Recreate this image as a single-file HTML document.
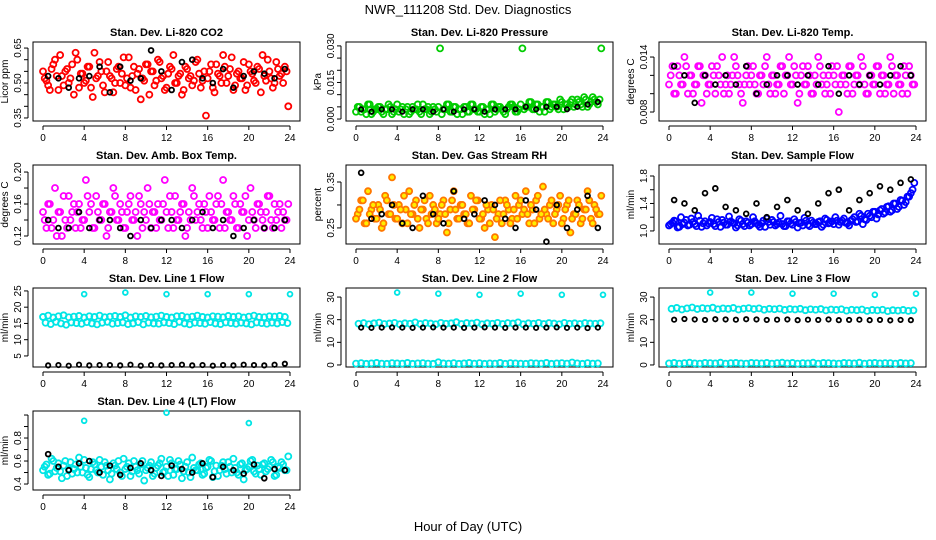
<!DOCTYPE html>
<html><head><meta charset="utf-8"><style>
body{margin:0;background:#fff}
svg{display:block;font-family:"Liberation Sans",sans-serif}
</style></head><body>
<svg id="c" width="936" height="540"></svg>
<script>
const hourTicks=[0,4,8,12,16,20,24];
const co2C=[0.52,0.49,0.56,0.60,0.47,0.53,0.55,0.50,0.58,0.63,0.48,0.54,0.51,0.57,0.44,0.52,0.59,0.49,0.55,0.53,0.46,0.56,0.50,0.61,0.52,0.48,0.57,0.54,0.43,0.51,0.58,0.55,0.49,0.60,0.52,0.47,0.54,0.56,0.50,0.53,0.45,0.57,0.52,0.49,0.59,0.54,0.51,0.36,0.55,0.48,0.58,0.53,0.62,0.50,0.56,0.47,0.54,0.52,0.59,0.49,0.55,0.51,0.57,0.46,0.53,0.60,0.52,0.50,0.56,0.54,0.57,0.40];
const co2C2=[0.55,0.51,0.47,0.58,0.53,0.62,0.49,0.56,0.52,0.45,0.60,0.54,0.50,0.57,0.48,0.63,0.53,0.55,0.46,0.59,0.52,0.50,0.57,0.54,0.49,0.61,0.53,0.47,0.56,0.52,0.58,0.45,0.55,0.51,0.59,0.53,0.48,0.57,0.62,0.50,0.54,0.47,0.56,0.53,0.51,0.60,0.48,0.55,0.52,0.58,0.46,0.54,0.50,0.57,0.53,0.61,0.49,0.55,0.52,0.47,0.58,0.54,0.50,0.56,0.62,0.51,0.55,0.48,0.59,0.53,0.50,0.55];
const co2K=[0.53,0.52,0.48,0.52,0.53,0.57,0.46,0.57,0.51,0.52,0.64,0.55,0.47,0.59,0.60,0.52,0.50,0.56,0.48,0.53,0.55,0.54,0.52,0.56];
const presC=[0.005,0.003,0.004,0.006,0.002,0.004,0.005,0.003,0.004,0.006,0.002,0.004,0.003,0.005,0.004,0.002,0.005,0.004,0.003,0.006,0.004,0.002,0.005,0.003,0.029,0.004,0.006,0.003,0.005,0.002,0.004,0.005,0.003,0.006,0.004,0.003,0.005,0.002,0.004,0.006,0.003,0.005,0.004,0.002,0.005,0.006,0.003,0.004,0.029,0.005,0.007,0.004,0.006,0.003,0.005,0.007,0.004,0.006,0.005,0.008,0.004,0.006,0.007,0.005,0.008,0.006,0.009,0.005,0.007,0.008,0.006,0.029];
const presC2=[0.003,0.005,0.004,0.002,0.006,0.003,0.004,0.005,0.002,0.004,0.005,0.003,0.006,0.004,0.002,0.005,0.003,0.004,0.006,0.002,0.004,0.005,0.003,0.004,0.005,0.002,0.004,0.006,0.003,0.005,0.004,0.002,0.005,0.003,0.006,0.004,0.003,0.005,0.004,0.002,0.006,0.004,0.005,0.003,0.004,0.006,0.005,0.003,0.006,0.004,0.005,0.007,0.004,0.006,0.005,0.003,0.007,0.005,0.006,0.004,0.007,0.006,0.005,0.008,0.006,0.007,0.005,0.008,0.006,0.009,0.007,0.008];
const presK=[0.004,0.003,0.004,0.004,0.003,0.004,0.004,0.003,0.004,0.003,0.004,0.004,0.003,0.004,0.004,0.004,0.005,0.004,0.005,0.005,0.004,0.005,0.006,0.007];
const tempC=[0.012,0.010,0.013,0.011,0.014,0.010,0.012,0.011,0.013,0.009,0.012,0.011,0.013,0.010,0.012,0.014,0.011,0.010,0.012,0.013,0.011,0.009,0.012,0.011,0.013,0.010,0.012,0.011,0.014,0.010,0.012,0.011,0.013,0.010,0.012,0.011,0.013,0.009,0.012,0.011,0.013,0.010,0.012,0.014,0.011,0.010,0.012,0.013,0.011,0.008,0.012,0.011,0.013,0.010,0.012,0.011,0.013,0.010,0.012,0.011,0.013,0.010,0.012,0.011,0.014,0.010,0.012,0.011,0.013,0.010,0.012,0.011];
const tempC2=[0.011,0.013,0.010,0.012,0.011,0.013,0.012,0.010,0.011,0.013,0.012,0.010,0.011,0.012,0.013,0.011,0.010,0.012,0.011,0.014,0.012,0.010,0.011,0.013,0.012,0.011,0.010,0.012,0.013,0.011,0.012,0.010,0.011,0.013,0.012,0.014,0.011,0.012,0.010,0.013,0.011,0.012,0.010,0.011,0.013,0.012,0.011,0.010,0.012,0.013,0.011,0.012,0.010,0.013,0.011,0.012,0.014,0.011,0.010,0.012,0.011,0.013,0.012,0.010,0.011,0.013,0.012,0.011,0.010,0.012,0.013,0.011];
const tempK=[0.013,0.012,0.009,0.012,0.011,0.012,0.011,0.013,0.010,0.011,0.012,0.012,0.011,0.012,0.011,0.013,0.010,0.012,0.011,0.012,0.011,0.012,0.013,0.012];
const ambC=[0.14,0.16,0.13,0.18,0.15,0.12,0.14,0.17,0.15,0.13,0.16,0.14,0.19,0.15,0.13,0.17,0.14,0.16,0.12,0.15,0.18,0.14,0.16,0.13,0.15,0.17,0.14,0.12,0.16,0.15,0.18,0.13,0.15,0.16,0.14,0.19,0.13,0.15,0.17,0.14,0.16,0.12,0.15,0.18,0.14,0.16,0.13,0.15,0.17,0.14,0.16,0.13,0.19,0.15,0.14,0.17,0.13,0.16,0.15,0.12,0.18,0.14,0.16,0.15,0.13,0.17,0.14,0.16,0.15,0.13,0.14,0.16];
const ambC2=[0.15,0.13,0.16,0.14,0.12,0.15,0.17,0.13,0.14,0.16,0.15,0.13,0.14,0.17,0.16,0.13,0.15,0.14,0.16,0.13,0.15,0.17,0.14,0.15,0.13,0.16,0.14,0.15,0.17,0.13,0.14,0.16,0.15,0.13,0.14,0.16,0.15,0.17,0.13,0.14,0.15,0.16,0.13,0.14,0.17,0.15,0.14,0.16,0.13,0.15,0.14,0.17,0.16,0.13,0.15,0.14,0.16,0.13,0.15,0.17,0.14,0.15,0.13,0.16,0.14,0.15,0.17,0.13,0.14,0.16,0.15,0.14];
const ambK=[0.14,0.13,0.13,0.15,0.13,0.14,0.14,0.13,0.12,0.14,0.13,0.14,0.14,0.13,0.14,0.15,0.13,0.14,0.12,0.13,0.14,0.13,0.13,0.14];
const rhC=[0.28,0.31,0.26,0.33,0.29,0.27,0.30,0.25,0.32,0.28,0.36,0.27,0.30,0.26,0.29,0.33,0.28,0.31,0.25,0.29,0.27,0.32,0.30,0.26,0.28,0.31,0.24,0.29,0.33,0.27,0.30,0.28,0.26,0.32,0.29,0.31,0.27,0.25,0.29,0.30,0.23,0.28,0.26,0.31,0.29,0.27,0.32,0.30,0.28,0.33,0.26,0.29,0.31,0.27,0.34,0.28,0.30,0.26,0.29,0.32,0.27,0.30,0.24,0.28,0.31,0.26,0.29,0.33,0.27,0.30,0.28,0.32];
const rhC2=[0.27,0.29,0.31,0.26,0.28,0.30,0.27,0.29,0.26,0.31,0.28,0.30,0.27,0.29,0.32,0.26,0.28,0.30,0.27,0.29,0.31,0.26,0.28,0.29,0.27,0.30,0.28,0.26,0.31,0.29,0.27,0.30,0.28,0.26,0.29,0.31,0.27,0.28,0.30,0.26,0.29,0.27,0.31,0.28,0.30,0.26,0.29,0.27,0.31,0.29,0.28,0.30,0.26,0.32,0.28,0.29,0.27,0.31,0.28,0.30,0.26,0.29,0.31,0.27,0.28,0.30,0.27,0.29,0.31,0.26,0.29,0.28];
const rhK=[0.37,0.27,0.28,0.30,0.26,0.25,0.32,0.28,0.26,0.33,0.27,0.28,0.31,0.30,0.27,0.25,0.31,0.29,0.22,0.30,0.25,0.29,0.32,0.25];
const flowC=[1.10,1.15,1.05,1.20,1.12,1.08,1.18,1.10,1.22,1.06,1.14,1.11,1.19,1.07,1.13,1.16,1.09,1.21,1.12,1.05,1.17,1.10,1.14,1.08,1.20,1.11,1.06,1.15,1.18,1.09,1.13,1.10,1.22,1.07,1.14,1.11,1.17,1.05,1.12,1.19,1.09,1.15,1.10,1.13,1.06,1.18,1.11,1.14,1.20,1.09,1.15,1.12,1.08,1.17,1.13,1.25,1.10,1.16,1.22,1.28,1.18,1.30,1.25,1.35,1.28,1.40,1.32,1.45,1.38,1.50,1.55,1.70];
const flowC2=[1.08,1.12,1.14,1.06,1.10,1.16,1.09,1.13,1.07,1.15,1.11,1.08,1.13,1.10,1.17,1.06,1.12,1.09,1.14,1.11,1.08,1.15,1.07,1.12,1.10,1.14,1.09,1.11,1.06,1.13,1.16,1.08,1.12,1.10,1.07,1.14,1.09,1.13,1.11,1.08,1.15,1.07,1.12,1.10,1.14,1.09,1.16,1.12,1.10,1.15,1.13,1.18,1.11,1.15,1.20,1.14,1.22,1.17,1.25,1.20,1.28,1.24,1.32,1.27,1.36,1.30,1.40,1.35,1.44,1.42,1.50,1.60];
const flowK=[1.45,1.40,1.30,1.55,1.62,1.35,1.30,1.25,1.40,1.20,1.35,1.45,1.30,1.25,1.40,1.55,1.60,1.30,1.45,1.55,1.65,1.60,1.70,1.75];
const l1A=[15.2,14.8,15.5,15.0,14.6,15.3,15.1,14.9,15.4,15.0,14.7,15.2,15.5,14.9,15.1,15.3,14.8,15.0,15.4,14.7,15.2,15.0,14.9,15.3,15.1,14.8,15.5,15.0,14.7,15.2,15.1,14.9,15.4,15.0,14.8,15.3,15.1,14.9,15.2,15.0,14.7,15.3,15.1,14.9,15.2,15.0,15.4,15.1];
const l1B=[17.0,17.4,16.8,17.2,17.5,16.9,17.1,17.3,16.8,17.2,17.0,17.4,16.9,17.1,17.3,17.0,17.5,16.8,17.2,17.0,17.3,16.9,17.1,17.4,17.0,16.8,17.2,17.3,16.9,17.1,17.4,17.0,16.8,17.2,17.1,16.9,17.3,17.0,17.2,16.8,17.1,17.4,17.0,16.9,17.2,17.1,17.3,17.0];
const l1K=[2.1,2.2,2.0,2.3,2.1,2.2,2.2,2.1,2.3,2.0,2.2,2.1,2.2,2.3,2.1,2.2,2.0,2.2,2.1,2.3,2.2,2.1,2.3,2.6];
const l1OutH=[4,8,12,16,20,24];
const l1OutV=[24,24.5,24,24,24,24];
const l2A=[18.2,18.5,18.0,18.4,18.7,18.1,18.3,18.6,18.0,18.4,18.2,18.8,18.1,18.5,18.3,18.0,18.6,18.2,18.4,18.9,18.1,18.5,18.3,18.7,18.0,18.4,18.2,18.6,18.1,18.5,18.3,18.8,18.0,18.4,18.2,18.6,18.1,18.5,18.3,18.0,18.6,18.2,18.4,18.1,18.5,18.3,18.2,18.4];
const l2B=[0.6,0.8,0.5,0.7,0.9,0.6,0.5,0.8,0.7,0.6,0.9,0.5,0.7,0.8,0.6,0.5,1.2,0.7,0.6,0.8,0.5,0.7,0.9,0.6,0.8,0.5,0.7,0.6,0.9,0.5,0.8,0.7,0.6,0.5,0.8,0.7,0.6,0.9,0.5,0.7,0.8,0.6,1.1,0.7,0.5,0.8,0.6,0.7];
const l2K=[16.5,16.4,16.5,16.6,16.5,16.4,16.5,16.6,16.5,16.5,16.4,16.5,16.6,16.5,16.4,16.5,16.5,16.4,16.5,16.6,16.4,16.5,16.3,16.5];
const l2OutH=[4,8,12,16,20,24];
const l2OutV=[32,31.5,31,31.5,31,31];
const l3A=[24.8,25.2,24.5,25.0,25.4,24.7,25.1,24.9,25.3,24.6,25.0,24.8,25.2,24.5,24.9,25.1,24.7,25.0,24.4,24.8,24.6,24.9,24.3,24.7,24.5,24.8,24.2,24.6,24.4,24.7,24.1,24.5,24.3,24.6,24.0,24.4,24.2,24.5,23.9,24.3,24.1,24.4,23.8,24.2,24.0,24.3,23.9,24.1];
const l3B=[0.7,0.9,0.6,0.8,1.0,0.7,0.6,0.9,0.8,0.7,1.0,0.6,0.8,0.9,0.7,0.6,0.9,0.8,0.7,0.9,0.6,0.8,1.0,0.7,0.9,0.6,0.8,0.7,1.0,0.6,0.9,0.8,0.7,0.6,0.9,0.8,0.7,1.0,0.6,0.8,0.9,0.7,0.8,0.8,0.6,0.9,0.7,0.8];
const l3K=[20.0,20.3,20.1,19.9,20.2,20.1,20.0,20.2,20.1,19.9,20.0,20.1,19.8,20.0,19.9,20.1,19.8,19.9,20.0,19.8,19.9,19.7,19.9,19.8];
const l3OutH=[4,8,12,16,20,24];
const l3OutV=[32,32,31.5,31.5,31,31.5];
const l4C=[0.55,0.48,0.62,0.51,0.58,0.45,0.60,0.53,0.49,0.57,0.63,0.50,0.54,0.46,0.59,0.52,0.61,0.48,0.56,0.44,0.58,0.53,0.50,0.62,0.55,0.47,0.60,0.52,0.57,0.43,0.54,0.59,0.49,0.56,0.62,0.51,0.47,0.58,0.53,0.60,0.45,0.55,0.50,0.63,0.52,0.57,0.48,0.54,0.61,0.46,0.56,0.52,0.59,0.49,0.55,0.62,0.50,0.57,0.44,0.53,0.60,0.51,0.56,0.48,0.58,0.53,0.61,0.47,0.55,0.59,0.52,0.64];
const l4C2=[0.52,0.57,0.49,0.60,0.54,0.51,0.56,0.47,0.59,0.53,0.50,0.55,0.61,0.48,0.53,0.57,0.50,0.55,0.59,0.52,0.49,0.56,0.60,0.47,0.53,0.58,0.51,0.55,0.49,0.60,0.52,0.56,0.47,0.54,0.58,0.50,0.55,0.61,0.48,0.53,0.57,0.51,0.59,0.46,0.54,0.52,0.58,0.49,0.55,0.60,0.51,0.47,0.56,0.53,0.59,0.50,0.54,0.48,0.58,0.52,0.55,0.61,0.49,0.53,0.57,0.51,0.55,0.59,0.48,0.54,0.57,0.52];
const l4K=[0.66,0.55,0.52,0.58,0.60,0.50,0.56,0.48,0.54,0.58,0.52,0.47,0.56,0.53,0.50,0.58,0.46,0.55,0.52,0.49,0.57,0.45,0.53,0.52];
const l4OutH=[4,12,20];
const l4OutV=[0.95,1.02,0.93];

const NS="http://www.w3.org/2000/svg";
const svg=document.getElementById('c');
function mk(tag,attrs,parent,text){const e=document.createElementNS(NS,tag);for(const k in attrs)e.setAttribute(k,attrs[k]);if(text!==undefined)e.textContent=text;(parent||svg).appendChild(e);return e;}
const cols=[{x0:33,x1:300,h0:43,h24:290},{x0:346,x1:613,h0:356,h24:603},{x0:659,x1:926,h0:669,h24:916}];
const rows=[42,165,288,411];
const RH=79;
function panel(o){
  const c=cols[o.col],top=rows[o.row],bot=top+RH;
  const g=mk('g',{});
  
  
  const xs=h=>c.h0+(h/24)*(c.h24-c.h0);
  const ys=v=>bot-(v-o.dom[0])/(o.dom[1]-o.dom[0])*RH;
  const t=mk('text',{x:(c.x0+c.x1)/2,y:top-6,'text-anchor':'middle','font-size':11,'font-weight':'bold'},g,o.title);
  
  
  mk('rect',{x:c.x0,y:top,width:c.x1-c.x0,height:RH,fill:'none',stroke:'#000','stroke-width':1},g);
  const xa=mk('g',{},g);
  
  
  mk('line',{x1:xs(0),x2:xs(24),y1:bot+5,y2:bot+5,stroke:'#000'},xa);
  hourTicks.forEach(h=>{mk('line',{x1:xs(h),x2:xs(h),y1:bot+5,y2:bot+9,stroke:'#000'},xa);
    mk('text',{x:xs(h),y:bot+20,'text-anchor':'middle','font-size':10},xa,String(h));});
  const ya=mk('g',{},g);
  
  
  const yt=o.ticks;
  mk('line',{x1:c.x0-5,x2:c.x0-5,y1:ys(yt[0]),y2:ys(yt[yt.length-1]),stroke:'#000'},ya);
  yt.forEach(v=>mk('line',{x1:c.x0-9,x2:c.x0-5,y1:ys(v),y2:ys(v),stroke:'#000'},ya));
  o.labels.forEach(v=>{const yy=ys(v);mk('text',{x:c.x0-12,y:yy,'text-anchor':'middle','font-size':10,transform:`rotate(-90 ${c.x0-12} ${yy})`},ya,v.toFixed(o.dec));});
  const yl=mk('text',{x:c.x0-25,y:(top+bot)/2,'text-anchor':'middle','font-size':10,transform:`rotate(-90 ${c.x0-25} ${(top+bot)/2})`},ya,o.ylab);
  
  
  o.series.forEach(s=>{
    const sg=mk('g',{},g);
    
    
    const off=s.off===undefined?0.5:s.off;
    s.vals.forEach((v,i)=>{
      const h=s.hours?s.hours[i]:(i+off)*24/s.vals.length;
      mk('circle',{cx:xs(h),cy:ys(v),r:s.r||3,fill:s.fill||'none',stroke:s.col,'stroke-width':s.sw||1.8},sg);
    });
  });
}
const K='#000';
panel({name:'panel-li820-co2',col:0,row:0,title:'Stan. Dev. Li-820 CO2',ylab:'Licor ppm',dom:[0.337,0.676],ticks:[0.35,0.40,0.45,0.50,0.55,0.60,0.65],labels:[0.35,0.50,0.65],dec:2,
 series:[{name:'co2-series',vals:co2C,col:'#ff0000'},{name:'co2-series-b',vals:co2C2,col:'#ff0000',off:0},{name:'co2-black-series',vals:co2K,col:K,r:2.4}]});
panel({name:'panel-li820-pressure',col:1,row:0,title:'Stan. Dev. Li-820 Pressure',ylab:'kPa',dom:[-0.0008,0.0316],ticks:[0,0.005,0.010,0.015,0.020,0.025,0.030],labels:[0,0.015,0.030],dec:3,
 series:[{name:'pressure-series',vals:presC,col:'#00cc00'},{name:'pressure-series-b',vals:presC2,col:'#00cc00',off:0},{name:'pressure-black-series',vals:presK,col:K,r:2.2}]});
panel({name:'panel-li820-temp',col:2,row:0,title:'Stan. Dev. Li-820 Temp.',ylab:'degrees C',dom:[0.00702,0.01564],ticks:[0.008,0.010,0.012,0.014],labels:[0.008,0.014],dec:3,
 series:[{name:'temp-series',vals:tempC,col:'#ff00ff'},{name:'temp-series-b',vals:tempC2,col:'#ff00ff',off:0},{name:'temp-black-series',vals:tempK,col:K,r:2.4}]});
panel({name:'panel-amb-box-temp',col:0,row:1,title:'Stan. Dev. Amb. Box Temp.',ylab:'degrees C',dom:[0.11,0.2088],ticks:[0.12,0.14,0.16,0.18,0.20],labels:[0.12,0.16,0.20],dec:2,
 series:[{name:'amb-series',vals:ambC,col:'#ff00ff'},{name:'amb-series-b',vals:ambC2,col:'#ff00ff',off:0},{name:'amb-black-series',vals:ambK,col:K,r:2.4}]});
panel({name:'panel-gas-stream-rh',col:1,row:1,title:'Stan. Dev. Gas Stream RH',ylab:'percent',dom:[0.215,0.387],ticks:[0.25,0.30,0.35],labels:[0.25,0.35],dec:2,
 series:[{name:'rh-series',vals:rhC,col:'#ff7700',fill:'#ffee00'},{name:'rh-series-b',vals:rhC2,col:'#ff7700',fill:'#ffee00',off:0},{name:'rh-black-series',vals:rhK,col:K,r:2.4}]});
panel({name:'panel-sample-flow',col:2,row:1,title:'Stan. Dev. Sample Flow',ylab:'ml/min',dom:[0.81,1.96],ticks:[1.0,1.2,1.4,1.6,1.8],labels:[1.0,1.4,1.8],dec:1,
 series:[{name:'flow-series',vals:flowC,col:'#0000ff'},{name:'flow-series-b',vals:flowC2,col:'#0000ff',off:0},{name:'flow-black-series',vals:flowK,col:K,r:2.4}]});
panel({name:'panel-line1-flow',col:0,row:2,title:'Stan. Dev. Line 1 Flow',ylab:'ml/min',dom:[1.6,25.9],ticks:[5,10,15,20,25],labels:[5,10,15,20,25],dec:0,
 series:[{name:'line1-band-low',vals:l1A,col:'#00e5e5'},{name:'line1-band-high',vals:l1B,col:'#00e5e5',off:0},{name:'line1-outliers',vals:l1OutV,hours:l1OutH,col:'#00e5e5',r:2.4},{name:'line1-black-series',vals:l1K,col:K,r:2.2}]});
panel({name:'panel-line2-flow',col:1,row:2,title:'Stan. Dev. Line 2 Flow',ylab:'ml/min',dom:[-0.9,34],ticks:[0,10,20,30],labels:[0,10,20,30],dec:0,
 series:[{name:'line2-band-high',vals:l2A,col:'#00e5e5'},{name:'line2-band-low',vals:l2B,col:'#00e5e5',off:0},{name:'line2-outliers',vals:l2OutV,hours:l2OutH,col:'#00e5e5',r:2.4},{name:'line2-black-series',vals:l2K,col:K,r:2.2}]});
panel({name:'panel-line3-flow',col:2,row:2,title:'Stan. Dev. Line 3 Flow',ylab:'ml/min',dom:[-0.9,34],ticks:[0,10,20,30],labels:[0,10,20,30],dec:0,
 series:[{name:'line3-band-high',vals:l3A,col:'#00e5e5'},{name:'line3-band-low',vals:l3B,col:'#00e5e5',off:0},{name:'line3-outliers',vals:l3OutV,hours:l3OutH,col:'#00e5e5',r:2.4},{name:'line3-black-series',vals:l3K,col:K,r:2.2}]});
panel({name:'panel-line4-flow',col:0,row:3,title:'Stan. Dev. Line 4 (LT) Flow',ylab:'ml/min',dom:[0.348,1.035],ticks:[0.4,0.5,0.6,0.7,0.8,0.9,1.0],labels:[0.4,0.6,0.8],dec:1,
 series:[{name:'line4-series',vals:l4C,col:'#00e5e5'},{name:'line4-series-b',vals:l4C2,col:'#00e5e5',off:0},{name:'line4-outliers',vals:l4OutV,hours:l4OutH,col:'#00e5e5',r:2.4},{name:'line4-black-series',vals:l4K,col:K,r:2.4}]});
const mt=mk('text',{x:468,y:14,'text-anchor':'middle','font-size':13},svg,'NWR_111208  Std. Dev. Diagnostics');


const xt=mk('text',{x:468,y:531,'text-anchor':'middle','font-size':13},svg,'Hour of Day (UTC)');


</script>
</body></html>
